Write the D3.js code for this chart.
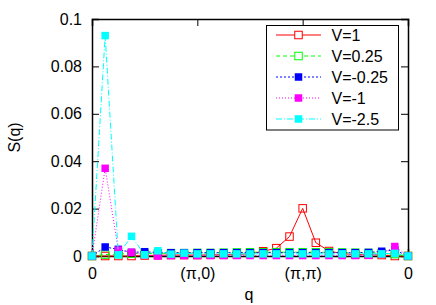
<!DOCTYPE html>
<html>
<head>
<meta charset="utf-8">
<script src="https://cdn.jsdelivr.net/npm/d3@7"></script>
<style>
  body { margin: 0; background: #fff; }
  text { font-family: "Liberation Sans", Arial, sans-serif; font-size: 16px; fill: #000; }
</style>
</head>
<body>
<svg id="chart"></svg>
<script>
// path through the Brillouin zone: 0 -> (pi,0) -> (pi,pi) -> 0, 25 q points
const qIndex = d3.range(25);
const xTickPos = [0, 8, 16, 24];
const xTickLabels = ["0", "(\u03c0,0)", "(\u03c0,\u03c0)", "0"];
const yTicks = [0, 0.02, 0.04, 0.06, 0.08, 0.1];

const seriesNames = ["V=1", "V=0.25", "V=-0.25", "V=-1", "V=-2.5"];
const v1 = [0, 0, 0, 0, 0.0002, 0.0003, 0.0004, 0.0004, 0.0004, 0.0005, 0.0005, 0.0006, 0.001, 0.002, 0.0033, 0.0082, 0.0201, 0.0056, 0.0021, 0.001, 0.0006, 0.0005, 0.0004, 0, 0];
const v025 = [0, 0.0006, 0.0008, 0.001, 0.001, 0.0011, 0.0012, 0.0012, 0.0013, 0.0013, 0.0014, 0.0015, 0.0016, 0.0016, 0.0016, 0.0016, 0.0016, 0.0016, 0.0016, 0.0015, 0.0014, 0.0013, 0.0012, 0.0008, 0];
const vm025 = [0, 0.0038, 0.0028, 0.0015, 0.0018, 0.0014, 0.0014, 0.0014, 0.0014, 0.0014, 0.0014, 0.0014, 0.0014, 0.0014, 0.0014, 0.0014, 0.0014, 0.0014, 0.0014, 0.0014, 0.0014, 0.0015, 0.002, 0.0025, 0];
const vm1 = [0, 0.037, 0.0025, 0.0016, 0.0005, 0, 0.0002, 0.0002, 0.0002, 0.0002, 0.0002, 0.0002, 0.0002, 0.0002, 0.0002, 0.0002, 0.0002, 0.0002, 0.0002, 0.0002, 0.0002, 0.0003, 0.0008, 0.004, 0];
const vm25 = [0, 0.093, 0.0005, 0.0083, 0.0005, 0.0022, 0.0008, 0.0012, 0.0009, 0.0009, 0.0009, 0.0009, 0.0009, 0.0009, 0.0009, 0.0009, 0.0009, 0.0009, 0.0009, 0.0009, 0.0009, 0.0009, 0.0009, 0.0011, 0];

const seriesValues = [v1, v025, vm025, vm1, vm25];
const colors = ["#ff0000", "#00ff00", "#0000ff", "#ff00ff", "#00ffff"];
const dashes = [null, "4,3", "2,2", "1,2", "6,2,1,2"];
const filled = [false, false, true, true, true];

const W = 436, H = 305;
const margin = { top: 19, right: 28, bottom: 49, left: 92 };
const width = W - margin.left - margin.right;
const height = H - margin.top - margin.bottom;

const svg = d3.select("#chart")
  .attr("width", W)
  .attr("height", H);

const g = svg.append("g")
  .attr("transform", `translate(${margin.left},${margin.top})`);

const x = d3.scaleLinear().domain([0, 24]).range([0, width]);
const y = d3.scaleLinear().domain([0, 0.1]).range([height, 0]);

// axes: ticks point inward on all four sides, like gnuplot
const tickLen = 7;
g.append("g")
  .attr("transform", `translate(0,${height})`)
  .call(d3.axisBottom(x).tickValues(xTickPos).tickSize(-tickLen).tickPadding(12)
    .tickFormat((d, i) => xTickLabels[i]));
g.append("g")
  .call(d3.axisTop(x).tickValues(xTickPos).tickSize(-tickLen).tickFormat(""));
g.append("g")
  .call(d3.axisLeft(y).tickValues(yTicks).tickSize(-tickLen).tickPadding(10)
    .tickFormat(d => d === 0 ? "0" : d3.format("~g")(d)));
g.append("g")
  .attr("transform", `translate(${width},0)`)
  .call(d3.axisRight(y).tickValues(yTicks).tickSize(-tickLen).tickFormat(""));

g.selectAll(".domain").attr("stroke", "#000").attr("stroke-width", 1.5);
g.selectAll(".tick line").attr("stroke", "#000");
g.selectAll(".tick text").style("font-size", "16px").attr("fill", "#000")
  .style("font-family", "Liberation Sans, Arial, sans-serif");

// axis titles
svg.append("text")
  .attr("transform", `translate(20,${margin.top + height / 2}) rotate(-90)`)
  .attr("text-anchor", "middle")
  .text("S(q)");
svg.append("text")
  .attr("x", 249)
  .attr("y", 300)
  .attr("text-anchor", "middle")
  .text("q");

const line = d3.line()
  .x((d, i) => x(qIndex[i]))
  .y(d => y(d));

const ms = 7.5;
seriesValues.forEach((vals, k) => {
  const s = g.append("g");
  s.append("path")
    .datum(vals)
    .attr("fill", "none")
    .attr("stroke", colors[k])
    .attr("stroke-width", 1)
    .attr("stroke-dasharray", dashes[k])
    .attr("d", line);
  s.selectAll("rect")
    .data(vals)
    .enter().append("rect")
    .attr("x", (d, i) => x(qIndex[i]) - ms / 2)
    .attr("y", d => y(d) - ms / 2)
    .attr("width", ms)
    .attr("height", ms)
    .attr("fill", filled[k] ? colors[k] : "none")
    .attr("stroke", filled[k] ? "none" : colors[k])
    .attr("stroke-width", 1);
});

// legend
const legend = svg.append("g");
legend.append("rect")
  .attr("x", 266.5).attr("y", 25.5)
  .attr("width", 132).attr("height", 104.5)
  .attr("fill", "#fff")
  .attr("stroke", "#000")
  .attr("stroke-width", 1);
seriesNames.forEach((name, k) => {
  const ly = 35 + k * 21;
  legend.append("line")
    .attr("x1", 276).attr("x2", 321)
    .attr("y1", ly).attr("y2", ly)
    .attr("stroke", colors[k])
    .attr("stroke-width", 1)
    .attr("stroke-dasharray", dashes[k]);
  legend.append("rect")
    .attr("x", 298.5 - ms / 2).attr("y", ly - ms / 2)
    .attr("width", ms).attr("height", ms)
    .attr("fill", filled[k] ? colors[k] : "#fff")
    .attr("stroke", filled[k] ? "none" : colors[k]);
  legend.append("text")
    .attr("x", 331.5)
    .attr("y", ly + 6)
    .text(name);
});
</script>
</body>
</html>
